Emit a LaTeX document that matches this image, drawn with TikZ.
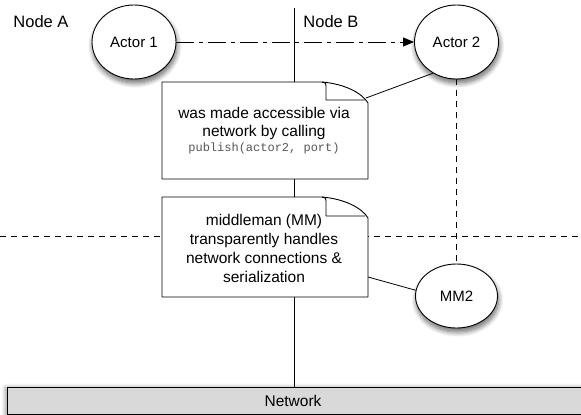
\documentclass[tikz,border=0pt]{standalone}
\usepackage{fontspec}
\setmainfont{Liberation Sans}
\setmonofont{Liberation Mono}
\usetikzlibrary{arrows.meta,shadows.blur,backgrounds,shapes.geometric}
\definecolor{codegray}{HTML}{555555}
\definecolor{netgray}{HTML}{D9D9D9}
\tikzset{
  actor/.style={ellipse, draw, line width=0.9pt, fill=white, minimum width=84pt, minimum height=74pt, inner sep=0pt,
    font=\fontsize{15}{17}\selectfont,
    blur shadow={shadow xshift=1pt, shadow yshift=-4pt, shadow blur radius=5pt, shadow blur steps=10, shadow opacity=60}},
  notebox/.style={draw, line width=0.9pt, fill=white, line join=round},
  notetext/.style={align=center, inner sep=0pt, font=\fontsize{15.5}{18}\selectfont},
  hostlabel/.style={inner sep=0pt, font=\fontsize{16.5}{19}\selectfont},
  link/.style={line width=0.8pt},
  msg/.style={line width=0.8pt, dash pattern=on 18pt off 5pt on 4pt off 5pt, -{Triangle[length=11pt,width=9pt]}},
  boundary/.style={line width=0.9pt, dash pattern=on 6pt off 5pt},
}
\begin{document}
\begin{tikzpicture}[x=1pt,y=-1pt]
\useasboundingbox (0,0) rectangle (581,415);

% host labels
\node[hostlabel] (nodeA) at (41,22) {Node A};
\node[hostlabel] (nodeB) at (331,22) {Node B};

% actors
\node[actor] (a1) at (134,42) {Actor 1};
\node[actor] (a2) at (456.5,42) {Actor 2};
\node[actor, minimum width=82pt, minimum height=64pt] (mm2) at (456.5,296) {MM2};

% network bar
\node[draw, line width=0.9pt, fill=netgray, minimum width=580pt, minimum height=27pt, inner sep=0pt, anchor=north west,
  blur shadow={shadow xshift=-2pt, shadow yshift=0pt, shadow blur radius=4pt, shadow blur steps=8, shadow opacity=40}]
  (net) at (7,387) {};
\node[inner sep=0pt, font=\fontsize{15.5}{18}\selectfont] (netlabel) at (293,401) {Network};

% note 1
\draw[notebox] (162,82) -- (322,82) .. controls (345,84) and (362,93) .. (368,103) -- (368,179) -- (162,179) -- cycle;
\draw[line width=0.9pt, line join=round] (322,82) .. controls (326,83) .. (326,88) -- (326,100) -- (365,100);
\node[notetext] (note1) at (264,131) {was made accessible via\\network by calling\\[-3pt]{\ttfamily\fontsize{12}{14}\selectfont\color{codegray}publish(actor2, port)}};
\coordinate (n1c) at (366,98);

% note 2
\draw[notebox] (162,197) -- (322,197) .. controls (345,199) and (362,208) .. (368,218) -- (368,297) -- (162,297) -- cycle;
\draw[line width=0.9pt, line join=round] (322,197) .. controls (326,198) .. (326,203) -- (326,216) -- (365,216);
\node[notetext, font=\fontsize{15.5}{19}\selectfont] (note2) at (264,248) {middleman (MM)\\transparently handles\\network connections \&\\serialization};
\coordinate (n2c) at (368,277);

% connectors
\draw[msg] (a1.east) -- (a2.west);
\draw[link] (n1c) -- (a2.-127);
\draw[link] (n2c) -- (mm2.172);

\begin{pgfonlayer}{background}
  \coordinate (vtop) at (294,8);
  \draw[link] (vtop) -- (vtop |- net.north);
  \coordinate (hl) at (0,236);
  \coordinate (hr) at (581,236);
  \draw[boundary] (hl) -- (hr);
  \draw[boundary] (a2.south) -- (mm2.north);
\end{pgfonlayer}
\end{tikzpicture}
\end{document}
